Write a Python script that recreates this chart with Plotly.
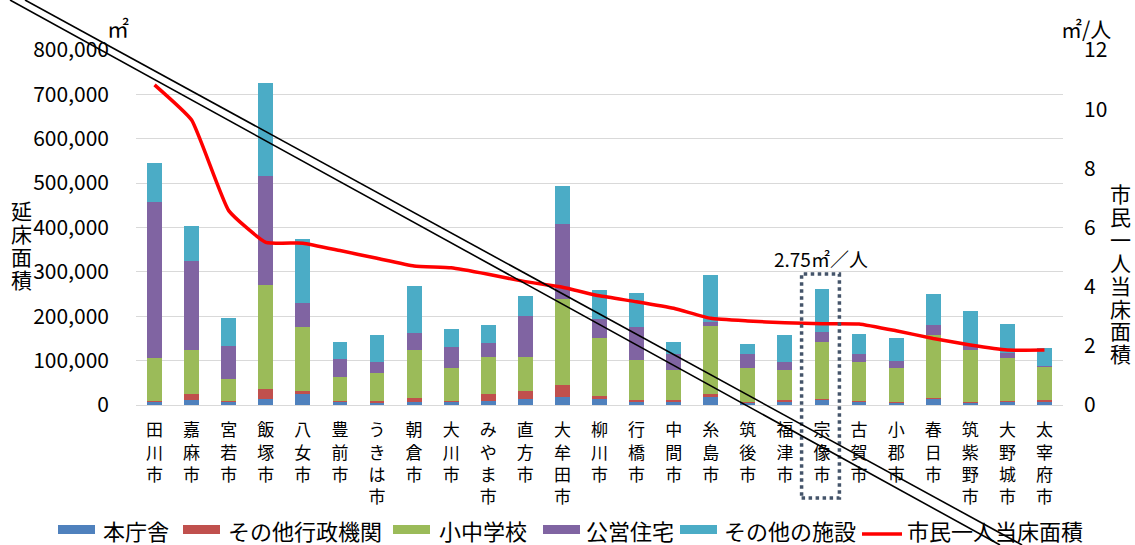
import plotly.graph_objects as go

# 福岡県内各市の公共施設延床面積（㎡）と市民一人当たり床面積（㎡/人）
cities = ["田川市", "嘉麻市", "宮若市", "飯塚市", "八女市", "豊前市", "うきは市", "朝倉市",
          "大川市", "みやま市", "直方市", "大牟田市", "柳川市", "行橋市", "中間市", "糸島市",
          "筑後市", "福津市", "宗像市", "古賀市", "小郡市", "春日市", "筑紫野市", "大野城市",
          "太宰府市"]

honchosha = [8000, 12000, 7000, 13000, 25000, 7000, 5000, 7000, 8000, 8000, 14000, 19000,
             13000, 9000, 8000, 18000, 5000, 9000, 12000, 9000, 5000, 14000, 5000, 9000, 9000]
sonota_gyosei = [2000, 12000, 1000, 23000, 7000, 1000, 5000, 9000, 2000, 16000, 18000, 27000,
                 7000, 3000, 3000, 7000, 1000, 3000, 1000, 1000, 2000, 1000, 2000, 1000, 2000]
shochu_gakko = [97000, 99000, 51000, 234000, 143000, 54000, 63000, 108000, 73000, 85000, 77000,
                194000, 132000, 89000, 68000, 153000, 78000, 68000, 130000, 86000, 77000,
                143000, 117000, 97000, 75000]
koei_jutaku = [350000, 201000, 75000, 246000, 54000, 41000, 25000, 38000, 48000, 31000, 92000,
               169000, 41000, 74000, 36000, 8000, 30000, 16000, 22000, 20000, 15000, 22000,
               11000, 10000, 3000]
sonota_shisetsu = [88000, 80000, 61000, 209000, 145000, 38000, 59000, 106000, 40000, 40000,
                   45000, 85000, 66000, 77000, 28000, 107000, 23000, 62000, 96000, 43000, 51000,
                   70000, 77000, 66000, 40000]
per_capita = [10.82, 9.63, 6.57, 5.50, 5.47, 5.22, 4.96, 4.70, 4.64, 4.42, 4.17, 3.98, 3.69,
              3.49, 3.27, 2.93, 2.84, 2.78, 2.75, 2.74, 2.51, 2.25, 2.03, 1.86, 1.86]

left_ticks = [0, 100000, 200000, 300000, 400000, 500000, 600000, 700000, 800000]
right_ticks = [0, 2, 4, 6, 8, 10, 12]

highlight_city = "宗像市"

series = [
    ("本庁舎", honchosha, "#4F81BD"),
    ("その他行政機関", sonota_gyosei, "#C0504D"),
    ("小中学校", shochu_gakko, "#9BBB59"),
    ("公営住宅", koei_jutaku, "#8064A2"),
    ("その他の施設", sonota_shisetsu, "#4BACC6"),
]
line_name = "市民一人当床面積"
line_color = "#FF0000"

FONT = "Noto Sans CJK JP"
W, H = 1135, 545
ML, MR, MT, MB = 136, 72, 50, 140
PW, PH = W - ML - MR, H - MT - MB


def px_x(x):
    return (x - ML) / PW


def px_y(y):
    return (H - MB - y) / PH


# vertical (stacked-character) category labels
labels = ["<br>".join(list(c)) for c in cities]

fig = go.Figure()

for name, vals, color in series:
    fig.add_trace(go.Bar(x=labels, y=vals, name=name, marker=dict(color=color, line=dict(width=0)),
                         width=0.4, showlegend=False))

fig.add_trace(go.Scatter(x=labels, y=per_capita, name=line_name, mode="lines",
                         line=dict(color=line_color, width=3.5, shape="spline", smoothing=0.4),
                         yaxis="y2", showlegend=False))

fig.update_layout(
    width=W, height=H,
    margin=dict(l=ML, r=MR, t=MT, b=MB, autoexpand=False),
    barmode="stack",
    plot_bgcolor="white", paper_bgcolor="white",
    font=dict(family=FONT, size=18, color="#000000"),
    showlegend=False,
    xaxis=dict(type="category", range=[-0.5, len(cities) - 0.5], showgrid=False,
               showline=True, linecolor="#D9D9D9", linewidth=1, ticks="", automargin=False,
               tickfont=dict(size=17), tickangle=0, ticklabelstandoff=10, fixedrange=True),
    yaxis=dict(range=[0, 800000], tickvals=left_ticks, tickformat=",d", automargin=False,
               showgrid=True, gridcolor="#D9D9D9", gridwidth=1, zeroline=False,
               tickfont=dict(size=21), ticklabelstandoff=26, ticks=""),
    yaxis2=dict(range=[0, 12], tickvals=right_ticks, overlaying="y", side="right",
                showgrid=False, zeroline=False, tickfont=dict(size=21), automargin=False,
                ticklabelstandoff=20, ticks=""),
)

annotations = [
    dict(text="㎡", x=px_x(118), y=px_y(27), xanchor="center", font=dict(size=22)),
    dict(text="㎡/人", x=px_x(1086), y=px_y(28), xanchor="center", font=dict(size=21)),
    dict(text="2.75㎡／人", x=px_x(821), y=px_y(258), xanchor="center", font=dict(size=19)),
]
# vertical axis titles, one character per row
for i, ch in enumerate("延床面積"):
    annotations.append(dict(text=ch, x=px_x(21), y=px_y(210 + 23 * i), xanchor="center",
                            font=dict(size=21)))
for i, ch in enumerate("市民一人当床面積"):
    annotations.append(dict(text=ch, x=px_x(1120), y=px_y(193 + 22.9 * i), xanchor="center",
                            font=dict(size=21)))

hi = cities.index(highlight_city)
shapes = [
    # dotted frame around the highlighted city
    dict(type="rect", xref="x", yref="paper", x0=hi - 0.55, x1=hi + 0.47,
         y0=px_y(498), y1=px_y(274),
         line=dict(color="#44546A", width=3.5, dash="dot"), fillcolor="rgba(0,0,0,0)",
         layer="above"),
]

# legend row along the bottom: (swatch left, swatch right, text left)
legend_pos = [(58, 95, 101), (183, 220, 226), (393, 430, 437), (543, 580, 584),
              (680, 717, 722), (862, 902, 905)]
legend_y = 530
for (name, _, color), (s0, s1, t0) in zip(series, legend_pos[:5]):
    shapes.append(dict(type="rect", xref="paper", yref="paper", x0=px_x(s0), x1=px_x(s1),
                       y0=px_y(legend_y + 4), y1=px_y(legend_y - 5), fillcolor=color,
                       line=dict(width=0)))
    annotations.append(dict(text=name, x=px_x(t0), y=px_y(legend_y), xanchor="left",
                            font=dict(size=22)))
s0, s1, t0 = legend_pos[5]
shapes.append(dict(type="line", xref="paper", yref="paper", x0=px_x(s0), x1=px_x(s1),
                   y0=px_y(legend_y + 4), y1=px_y(legend_y + 4),
                   line=dict(color=line_color, width=3.5)))
annotations.append(dict(text=line_name, x=px_x(t0), y=px_y(legend_y), xanchor="left",
                        font=dict(size=22)))

# double strike line across the chart
shapes += [
    dict(type="line", xref="paper", yref="paper", x0=px_x(25), y0=px_y(0),
         x1=px_x(25 + 545 / 0.5466), y1=px_y(545), line=dict(color="#000000", width=1.6),
         layer="above"),
    dict(type="line", xref="paper", yref="paper", x0=px_x(10), y0=px_y(0),
         x1=px_x(10 + 545 / 0.5505), y1=px_y(545), line=dict(color="#000000", width=1.6),
         layer="above"),
]

for a in annotations:
    a.update(xref="paper", yref="paper", yanchor="middle", showarrow=False)
    a.setdefault("font", dict(size=19))

fig.update_layout(annotations=annotations, shapes=shapes)

fig.write_html("out.html")
